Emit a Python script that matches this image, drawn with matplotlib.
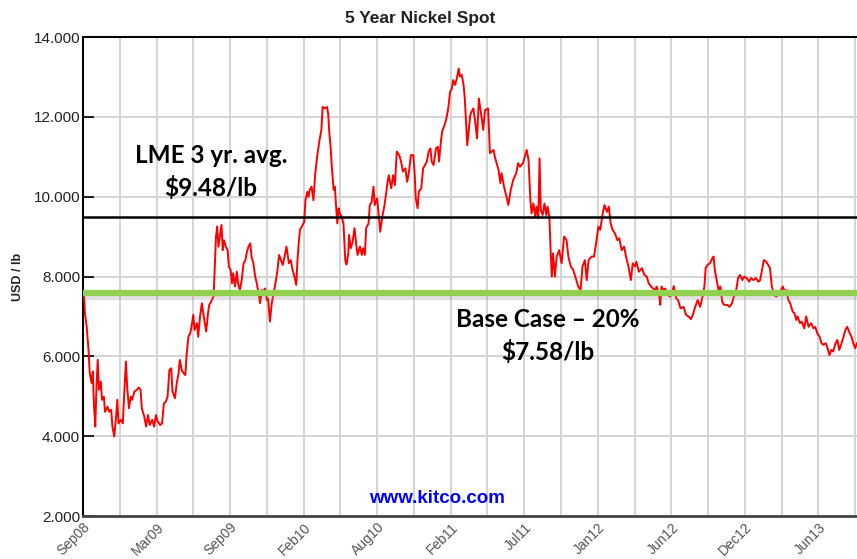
import matplotlib
matplotlib.use("Agg")
import matplotlib.pyplot as plt
from matplotlib.ticker import FuncFormatter

# trading-day index (60 days between gridlines) and spot price, USD/lb
days = [0, 2, 3, 6, 9, 11, 14, 16, 18, 20, 22, 24, 26, 29, 31, 34, 36, 40, 43, 46,
        48, 51, 54, 56, 58, 62, 65, 67, 70, 72, 75, 78, 80, 84, 88, 91, 94, 96, 100, 103,
        106, 109, 113, 116, 119, 122, 126, 129, 132, 135, 138, 141, 144, 146, 150, 153, 156, 158, 161, 164,
        167, 169, 172, 175, 177, 180, 182, 186, 188, 191, 194, 197, 201, 204, 206, 209, 213, 214, 217, 219,
        221, 224, 226, 228, 230, 233, 236, 238, 241, 243, 245, 248, 251, 253, 256, 259, 262, 265, 267, 270,
        273, 275, 278, 281, 283, 286, 289, 292, 294, 297, 300, 302, 305, 308, 311, 314, 317, 320, 323, 326,
        329, 332, 336, 339, 342, 345, 348, 350, 352, 354, 357, 361, 363, 366, 368, 370, 373, 376, 379, 382,
        386, 389, 391, 394, 398, 400, 402, 404, 406, 409, 411, 413, 415, 417, 419, 422, 425, 428, 430, 433,
        434, 437, 440, 443, 446, 448, 452, 455, 457, 460, 462, 466, 468, 471, 474, 476, 480, 482, 485, 488,
        492, 495, 497, 499, 503, 506, 509, 512, 516, 519, 522, 526, 529, 532, 535, 539, 541, 543, 546, 548,
        552, 555, 558, 561, 564, 567, 569, 572, 576, 579, 581, 584, 586, 590, 593, 596, 599, 602, 604, 607,
        610, 613, 615, 618, 621, 623, 627, 632, 634, 637, 640, 643, 646, 651, 653, 656, 661, 664, 670, 672,
        678, 681, 683, 687, 691, 694, 698, 702, 707, 710, 713, 718, 721, 724, 727, 730, 732, 735, 738, 740,
        743, 745, 747, 750, 753, 756, 758, 761, 763, 765, 767, 770, 773, 777, 781, 785, 789, 792, 796, 800,
        805, 808, 812, 815, 819, 822, 825, 830, 834, 838, 841, 844, 848, 851, 855, 858, 861, 864, 868, 872,
        875, 879, 883, 886, 890, 894, 897, 901, 903, 907, 912, 916, 920, 923, 927, 930, 934, 936, 940, 942,
        944, 947, 950, 954, 958, 961, 964, 968, 971, 975, 980, 984, 988, 992, 995, 999, 1003, 1007, 1011, 1014,
        1016, 1019, 1023, 1027, 1029, 1031, 1034, 1037, 1040, 1043, 1046, 1051, 1055, 1059, 1062, 1065, 1069, 1072, 1076, 1079,
        1083, 1087, 1090, 1094, 1098, 1102, 1105, 1108, 1111, 1115, 1118, 1121, 1124, 1128, 1131, 1135, 1139, 1142, 1145, 1148,
        1151, 1154, 1158, 1161, 1164, 1166, 1170, 1173, 1177, 1180, 1184, 1188, 1192, 1195, 1198, 1202, 1205, 1208, 1212, 1215,
        1218, 1221, 1224, 1228, 1231, 1234, 1237, 1241, 1244, 1247, 1250, 1254, 1257, 1260, 1263]
price = [7.55, 7.5, 7.1, 6.74, 6.16, 5.58, 5.33, 5.62, 4.74, 4.24, 5.24, 5.91, 5.16, 5.37, 4.91, 4.99, 4.61, 4.74, 4.61, 4.66,
         4.24, 3.99, 4.49, 4.91, 4.32, 4.41, 4.32, 4.99, 5.87, 5.24, 4.70, 4.99, 4.91, 5.12, 5.16, 5.22, 5.16, 4.70, 4.49, 4.24,
         4.53, 4.28, 4.41, 4.24, 4.53, 4.36, 4.28, 4.32, 4.82, 4.86, 4.99, 5.66, 5.70, 5.12, 4.95, 5.33, 5.58, 5.91, 5.66, 5.58,
         5.53, 6.03, 6.49, 6.58, 6.74, 7.04, 6.66, 6.83, 6.49, 7.0, 7.33, 7.0, 6.62, 7.08, 7.29, 7.37, 7.50, 7.83, 9.0, 9.25,
         8.75, 9.08, 9.29, 8.66, 8.91, 8.75, 8.66, 8.25, 8.16, 7.83, 8.08, 7.75, 8.12, 7.83, 7.66, 7.91, 8.33, 8.41, 8.58, 8.75,
         8.83, 8.50, 8.33, 8.0, 7.87, 7.62, 7.33, 7.66, 7.62, 7.70, 7.41, 7.45, 6.87, 7.33, 7.58, 7.83, 8.12, 8.54, 8.41, 8.29,
         8.50, 8.75, 8.33, 8.41, 8.16, 8.0, 7.79, 8.41, 8.83, 9.17, 9.25, 9.37, 9.91, 10.12, 10.0, 10.17, 10.25, 9.91, 10.58, 11.0,
         11.42, 11.67, 12.25, 12.21, 12.25, 12.09, 11.59, 11.25, 10.75, 10.17, 10.25, 9.75, 9.33, 9.71, 9.58, 9.50, 9.33, 8.4, 8.3, 8.58,
         9.04, 8.71, 8.87, 9.21, 8.79, 8.54, 8.75, 8.54, 8.71, 8.54, 9.21, 9.33, 9.79, 9.87, 10.25, 9.79, 9.96, 9.62, 9.12, 9.46,
         9.79, 10.12, 10.37, 10.54, 10.21, 10.54, 10.29, 11.13, 11.04, 10.88, 10.63, 10.71, 10.37, 10.63, 11.04, 11.04, 10.63, 9.96, 9.71, 10.12,
         10.21, 10.71, 10.79, 10.88, 11.13, 11.21, 10.88, 10.79, 11.21, 11.25, 10.88, 11.38, 11.63, 11.80, 11.96, 12.21, 12.63, 12.71, 12.92, 12.80,
         12.96, 13.21, 13.01, 13.05, 12.8, 12.46, 11.29, 12.05, 12.13, 12.21, 11.88, 11.46, 12.46, 11.92, 11.67, 12.17, 12.21, 11.09, 11.17, 11.0,
         10.67, 10.34, 10.59, 10.25, 10.0, 9.79, 10.17, 10.42, 10.59, 10.84, 10.75, 10.84, 11.0, 11.17, 10.92, 9.92, 9.58, 9.83, 9.50, 9.75,
         9.46, 10.96, 9.67, 9.54, 9.83, 9.54, 9.75, 9.50, 8.66, 8.0, 8.58, 8.0, 8.50, 8.66, 8.33, 9.0, 8.91, 8.50, 8.25, 8.16,
         7.91, 7.75, 7.66, 8.25, 8.41, 7.91, 8.41, 8.50, 8.50, 8.91, 9.25, 9.17, 9.58, 9.79, 9.62, 9.75, 9.33, 9.17, 9.08, 8.91,
         8.96, 8.66, 8.75, 8.50, 8.25, 7.91, 8.33, 8.25, 8.37, 8.12, 8.21, 8.04, 8.0, 7.83, 7.75, 7.70, 7.66, 7.75, 7.54, 7.29,
         7.75, 7.66, 7.70, 7.54, 7.50, 7.58, 7.76, 7.45, 7.41, 7.20, 7.24, 7.04, 7.0, 6.93, 7.04, 7.24, 7.41, 7.24, 7.50, 7.75,
         8.21, 8.29, 8.33, 8.46, 8.50, 8.16, 7.91, 7.66, 7.75, 7.37, 7.29, 7.29, 7.24, 7.33, 7.50, 7.58, 7.96, 8.04, 7.91, 8.0,
         7.96, 7.87, 7.96, 7.91, 7.96, 7.87, 7.91, 8.16, 8.41, 8.37, 8.29, 8.21, 7.75, 7.54, 7.50, 7.54, 7.66, 7.75, 7.62, 7.66,
         7.41, 7.33, 7.12, 7.08, 6.91, 7.0, 6.83, 6.87, 6.70, 7.0, 6.74, 6.83, 6.70, 6.74, 6.58, 6.49, 6.33, 6.29, 6.33, 6.20,
         6.03, 6.16, 6.12, 6.33, 6.41, 6.16, 6.29, 6.49, 6.66, 6.74, 6.62, 6.49, 6.33, 6.20, 6.33]

tick_days = list(range(0, 1261, 60))
label_days = list(range(0, 1201, 120))
labels = ["Sep08", "Mar09", "Sep09", "Feb10", "Aug10", "Feb11", "Jul11",
          "Jan12", "Jun12", "Dec12", "Jun13"]
lme_avg = 9.48
base_case = 7.58

plt.rcParams["font.family"] = ["Liberation Sans", "DejaVu Sans"]

fig = plt.figure(figsize=(8.57, 5.59), dpi=100)
ax = fig.add_axes([83 / 857, 1 - 516 / 559, 1 - 83 / 857, (516 - 37) / 559])

ax.set_xlim(0, 1263)
ax.set_ylim(2, 14)
ax.set_xticks(tick_days)
ax.set_xticklabels([labels[label_days.index(d)] if d in label_days else "" for d in tick_days],
                   rotation=45, ha="right", va="top", rotation_mode="anchor",
                   fontsize=10, color="#555555")
ax.set_yticks(range(2, 15, 2))
ax.yaxis.set_major_formatter(FuncFormatter(lambda v, _: f"{v:.3f}"))
ax.tick_params(axis="y", direction="in", length=8, width=1.2, labelsize=11,
               labelcolor="#222222", pad=2)
ax.tick_params(axis="x", length=0, pad=3)
ax.grid(True, color="#d4d4d4", lw=1.4)
ax.set_axisbelow(True)

for s in ("left", "top"):
    ax.spines[s].set_color("black")
    ax.spines[s].set_linewidth(1.5)
ax.spines["bottom"].set_color("#444444")
ax.spines["bottom"].set_linewidth(2)
ax.spines["right"].set_visible(False)

ax.plot(days, price, color="#ff0000", lw=1.4, zorder=3)

ax.axhline(lme_avg, color="black", lw=1.8, zorder=4)
ax.axhline(base_case - 0.07, color="#888888", lw=6, alpha=0.25, zorder=4)
ax.axhline(base_case, color="#92d050", lw=4.5, zorder=5)

ax.text(0.165, 0.719, f"LME 3 yr. avg.\n${lme_avg:.2f}/lb", transform=ax.transAxes,
        ha="center", va="center", fontsize=17.5, fontweight="bold", family="Lato",
        linespacing=1.45, zorder=6)
ax.text(0.6, 0.376, f"Base Case \u2013 20%\n${base_case:.2f}/lb", transform=ax.transAxes,
        ha="center", va="center", fontsize=17.5, fontweight="bold", family="Lato",
        linespacing=1.45, zorder=6)
ax.text(0.457, 0.037, "www.kitco.com", transform=ax.transAxes, ha="center", va="center",
        fontsize=13.5, fontweight="bold", color="#0000ff", zorder=6)

fig.text(420 / 857, 1 - 18 / 559, "5 Year Nickel Spot", ha="center", va="center",
         fontsize=12.5, fontweight="bold", color="#222222")
fig.text(18 / 857, 1 - 277 / 559, "USD / lb", ha="center", va="center", rotation=90,
         fontsize=9, fontweight="bold", color="#222222")

fig.savefig("out.png", dpi=100, facecolor="white")
